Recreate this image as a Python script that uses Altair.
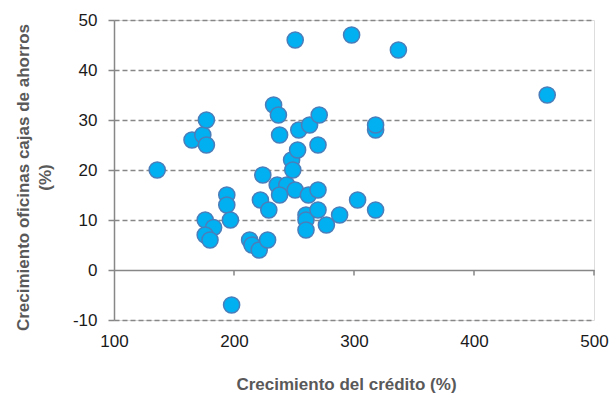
import altair as alt
import pandas as pd

credito = [136, 165, 174, 177, 177, 176, 183, 176, 180, 194, 194, 197, 198,
           213, 215, 221, 228, 222, 224, 229, 233, 237, 238, 236, 244, 238,
           251, 248, 253, 249, 251, 254, 263, 271, 270, 262, 270, 260, 260,
           260, 270, 277, 288, 303, 318, 318, 318, 298, 337, 461]
oficinas = [20, 26, 27, 25, 30, 10, 8.5, 7, 6, 15, 13, 10, -7,
            6, 5, 4, 6, 14, 19, 12, 33, 31, 27, 17, 17, 15,
            16, 22, 24, 20, 46, 28, 29, 31, 25, 15, 16, 11, 10,
            8, 12, 9, 11, 14, 12, 28, 29, 47, 44, 35]

x_ticks = [100, 200, 300, 400, 500]
y_ticks = [-10, 0, 10, 20, 30, 40, 50]

df = pd.DataFrame({"credito": credito, "oficinas": oficinas})
ticks_df = pd.DataFrame({"t": x_ticks[1:], "y0": [0] * 4, "y1": [-1.1] * 4})

FONT = "Liberation Sans"
GRAY = "#878787"
FS = 17

xscale = alt.Scale(domain=[100, 500], nice=False, zero=False)
yscale = alt.Scale(domain=[-10, 50], nice=False, zero=False)

tick_marks = alt.Chart(ticks_df).mark_rule(color=GRAY, strokeWidth=1.5).encode(
    x=alt.X("t:Q", scale=xscale),
    y=alt.Y("y0:Q", scale=yscale),
    y2="y1:Q",
)

points = alt.Chart(df).mark_circle(
    size=260, color="#00B0F0", stroke="#4A7EBB", strokeWidth=1.5, opacity=1
).encode(
    x=alt.X("credito:Q", scale=xscale,
            axis=alt.Axis(orient="bottom", values=x_ticks, domain=False,
                          ticks=False, tickSize=0, grid=False,
                          labelFlush=False, labelPadding=13,
                          labelFont=FONT, labelFontSize=FS,
                          labelColor="#1a1a1a",
                          title="Crecimiento del crédito (%)",
                          titleFont=FONT, titleFontSize=FS,
                          titleFontWeight="bold", titleColor="#595959",
                          titleBaseline="middle", titleX=232, titleY=64)),
    y=alt.Y("oficinas:Q", scale=yscale,
            axis=alt.Axis(values=y_ticks, grid=True,
                          gridDash={"condition": {"test": "datum.value === 0", "value": []},
                                    "value": [5, 3]},
                          gridWidth={"condition": {"test": "datum.value === 0", "value": 1.6},
                                     "value": 1.3},
                          gridColor=GRAY,
                          domain=True, domainColor=GRAY, domainWidth=1.5,
                          ticks=True, tickColor=GRAY, tickWidth=1.5,
                          tickSize=6, labelPadding=11, labelFlush=False,
                          labelExpr="datum.value + ''",
                          labelFont=FONT, labelFontSize=FS,
                          labelColor="#1a1a1a",
                          title=["Crecimiento oficinas cajas de ahorros", "(%)"],
                          titleFont=FONT, titleFontSize=FS,
                          titleFontWeight="bold", titleColor="#595959",
                          titleAngle=-90, titleAlign="center",
                          titleBaseline="top", titleX=-99, titleY=157,
                          titleLineHeight=22)),
)

chart = alt.layer(tick_marks, points).properties(
    width=480, height=300,
    autosize=alt.AutoSizeParams(type="none"),
    padding={"left": 114, "top": 20, "right": 18, "bottom": 74},
).configure_view(stroke=None).configure(background="white")

chart.save("out.html", embed_options={"renderer": "svg", "actions": False})
